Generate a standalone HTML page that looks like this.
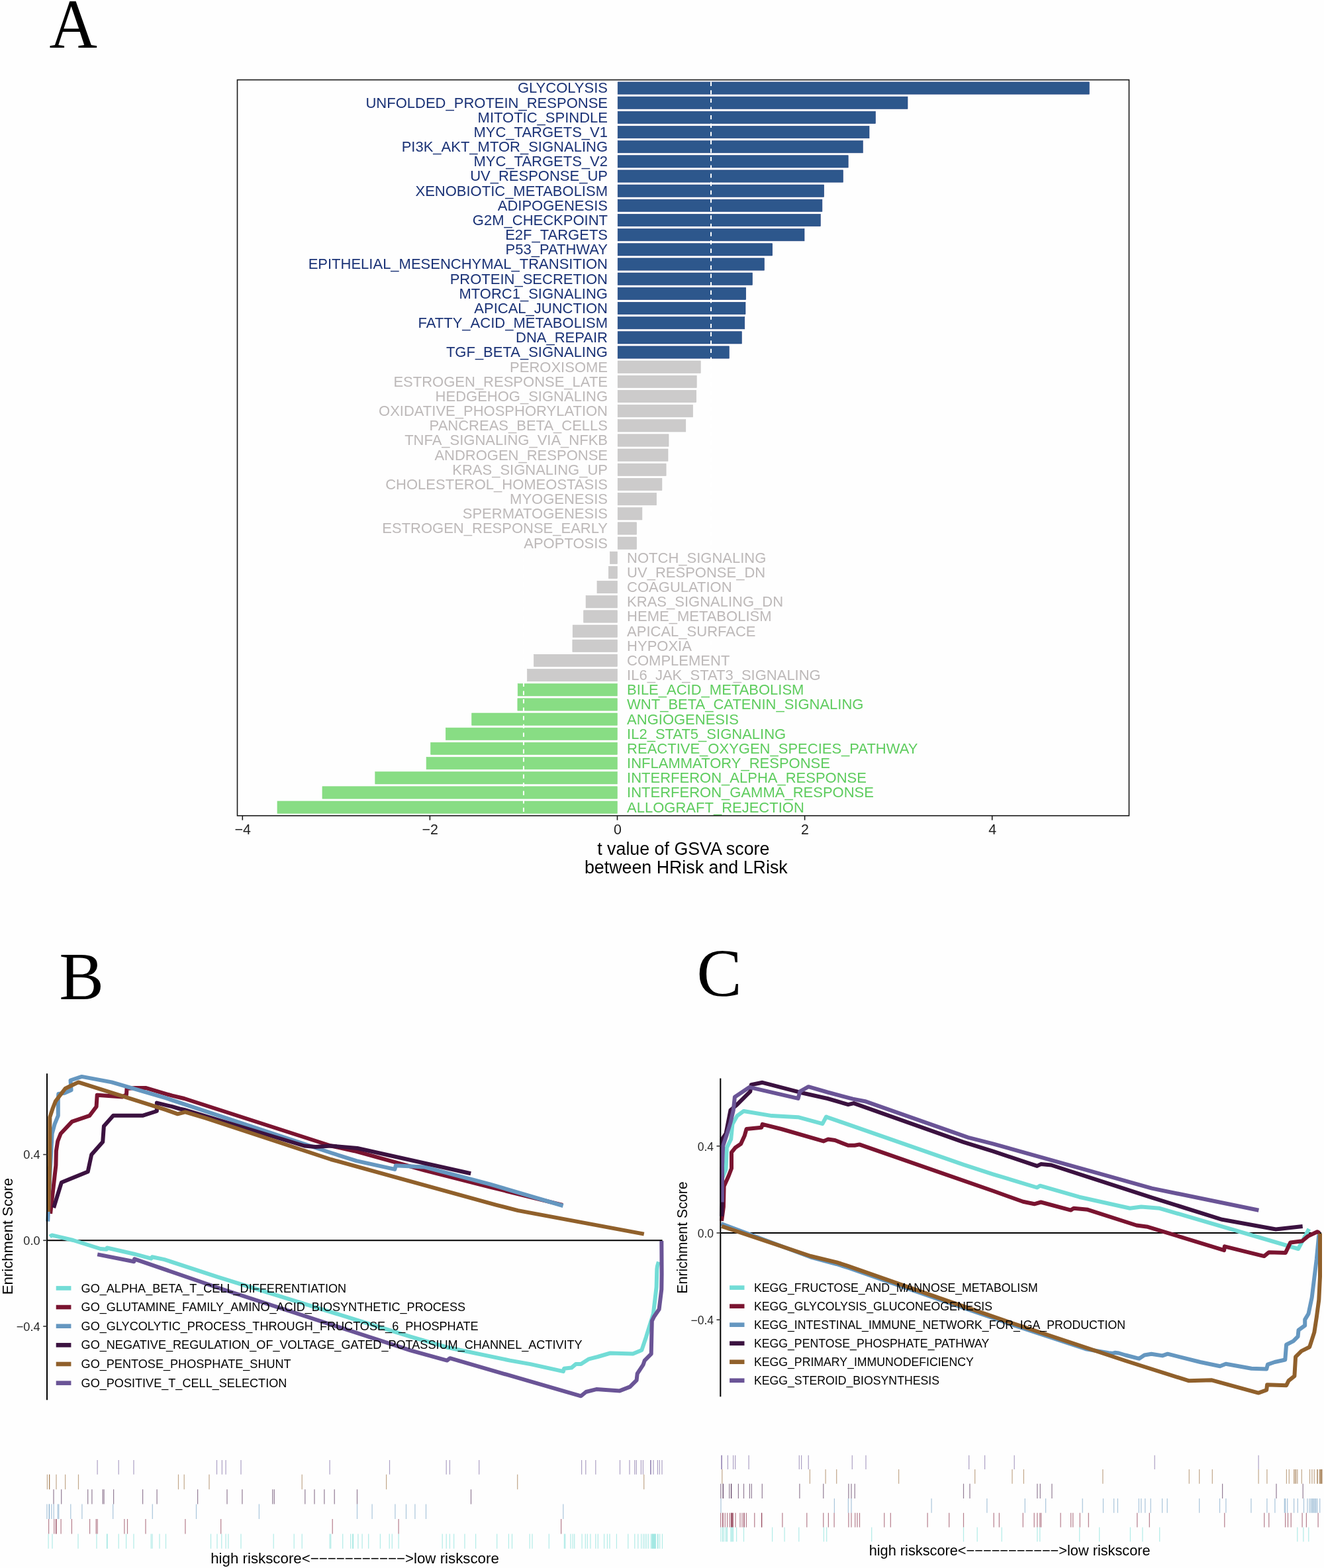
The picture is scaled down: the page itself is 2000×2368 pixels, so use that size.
<!DOCTYPE html>
<html><head><meta charset="utf-8"><title>GSVA and GSEA figure</title>
<style>
html,body{margin:0;padding:0;background:#FEFEFE;}
body{width:2000px;height:2368px;overflow:hidden;}
svg{display:block;}
</style></head>
<body>
<svg width="2000" height="2368" viewBox="0 0 2000 2368">
<rect x="0" y="0" width="2000" height="2368" fill="#FEFEFE"/>
<g id="panelA">
<rect x="933.20" y="123.90" width="712.10" height="18.3" fill="#2D578C" stroke="#1C3B7A" stroke-width="0.6"/>
<rect x="933.20" y="146.06" width="437.80" height="18.3" fill="#2D578C" stroke="#1C3B7A" stroke-width="0.6"/>
<rect x="933.20" y="168.23" width="389.20" height="18.3" fill="#2D578C" stroke="#1C3B7A" stroke-width="0.6"/>
<rect x="933.20" y="190.40" width="379.80" height="18.3" fill="#2D578C" stroke="#1C3B7A" stroke-width="0.6"/>
<rect x="933.20" y="212.56" width="370.10" height="18.3" fill="#2D578C" stroke="#1C3B7A" stroke-width="0.6"/>
<rect x="933.20" y="234.72" width="348.00" height="18.3" fill="#2D578C" stroke="#1C3B7A" stroke-width="0.6"/>
<rect x="933.20" y="256.89" width="340.20" height="18.3" fill="#2D578C" stroke="#1C3B7A" stroke-width="0.6"/>
<rect x="933.20" y="279.06" width="311.40" height="18.3" fill="#2D578C" stroke="#1C3B7A" stroke-width="0.6"/>
<rect x="933.20" y="301.22" width="308.70" height="18.3" fill="#2D578C" stroke="#1C3B7A" stroke-width="0.6"/>
<rect x="933.20" y="323.38" width="306.10" height="18.3" fill="#2D578C" stroke="#1C3B7A" stroke-width="0.6"/>
<rect x="933.20" y="345.55" width="281.80" height="18.3" fill="#2D578C" stroke="#1C3B7A" stroke-width="0.6"/>
<rect x="933.20" y="367.72" width="233.50" height="18.3" fill="#2D578C" stroke="#1C3B7A" stroke-width="0.6"/>
<rect x="933.20" y="389.88" width="221.20" height="18.3" fill="#2D578C" stroke="#1C3B7A" stroke-width="0.6"/>
<rect x="933.20" y="412.05" width="203.20" height="18.3" fill="#2D578C" stroke="#1C3B7A" stroke-width="0.6"/>
<rect x="933.20" y="434.21" width="193.50" height="18.3" fill="#2D578C" stroke="#1C3B7A" stroke-width="0.6"/>
<rect x="933.20" y="456.38" width="192.80" height="18.3" fill="#2D578C" stroke="#1C3B7A" stroke-width="0.6"/>
<rect x="933.20" y="478.54" width="191.60" height="18.3" fill="#2D578C" stroke="#1C3B7A" stroke-width="0.6"/>
<rect x="933.20" y="500.71" width="187.10" height="18.3" fill="#2D578C" stroke="#1C3B7A" stroke-width="0.6"/>
<rect x="933.20" y="522.87" width="168.10" height="18.3" fill="#2D578C" stroke="#1C3B7A" stroke-width="0.6"/>
<rect x="933.20" y="545.03" width="125.00" height="18.3" fill="#CCCBCB" stroke="#C2C1C1" stroke-width="0.6"/>
<rect x="933.20" y="567.20" width="119.00" height="18.3" fill="#CCCBCB" stroke="#C2C1C1" stroke-width="0.6"/>
<rect x="933.20" y="589.37" width="118.40" height="18.3" fill="#CCCBCB" stroke="#C2C1C1" stroke-width="0.6"/>
<rect x="933.20" y="611.53" width="113.20" height="18.3" fill="#CCCBCB" stroke="#C2C1C1" stroke-width="0.6"/>
<rect x="933.20" y="633.69" width="102.60" height="18.3" fill="#CCCBCB" stroke="#C2C1C1" stroke-width="0.6"/>
<rect x="933.20" y="655.86" width="76.80" height="18.3" fill="#CCCBCB" stroke="#C2C1C1" stroke-width="0.6"/>
<rect x="933.20" y="678.02" width="75.80" height="18.3" fill="#CCCBCB" stroke="#C2C1C1" stroke-width="0.6"/>
<rect x="933.20" y="700.19" width="72.90" height="18.3" fill="#CCCBCB" stroke="#C2C1C1" stroke-width="0.6"/>
<rect x="933.20" y="722.35" width="66.70" height="18.3" fill="#CCCBCB" stroke="#C2C1C1" stroke-width="0.6"/>
<rect x="933.20" y="744.52" width="58.30" height="18.3" fill="#CCCBCB" stroke="#C2C1C1" stroke-width="0.6"/>
<rect x="933.20" y="766.68" width="36.70" height="18.3" fill="#CCCBCB" stroke="#C2C1C1" stroke-width="0.6"/>
<rect x="933.20" y="788.85" width="28.30" height="18.3" fill="#CCCBCB" stroke="#C2C1C1" stroke-width="0.6"/>
<rect x="933.20" y="811.01" width="28.30" height="18.3" fill="#CCCBCB" stroke="#C2C1C1" stroke-width="0.6"/>
<rect x="921.60" y="833.18" width="10.70" height="18.3" fill="#CCCBCB" stroke="#C2C1C1" stroke-width="0.6"/>
<rect x="919.40" y="855.34" width="12.90" height="18.3" fill="#CCCBCB" stroke="#C2C1C1" stroke-width="0.6"/>
<rect x="902.00" y="877.51" width="30.30" height="18.3" fill="#CCCBCB" stroke="#C2C1C1" stroke-width="0.6"/>
<rect x="885.10" y="899.67" width="47.20" height="18.3" fill="#CCCBCB" stroke="#C2C1C1" stroke-width="0.6"/>
<rect x="881.70" y="921.84" width="50.60" height="18.3" fill="#CCCBCB" stroke="#C2C1C1" stroke-width="0.6"/>
<rect x="865.20" y="944.00" width="67.10" height="18.3" fill="#CCCBCB" stroke="#C2C1C1" stroke-width="0.6"/>
<rect x="864.90" y="966.17" width="67.40" height="18.3" fill="#CCCBCB" stroke="#C2C1C1" stroke-width="0.6"/>
<rect x="806.60" y="988.33" width="125.70" height="18.3" fill="#CCCBCB" stroke="#C2C1C1" stroke-width="0.6"/>
<rect x="796.60" y="1010.50" width="135.70" height="18.3" fill="#CCCBCB" stroke="#C2C1C1" stroke-width="0.6"/>
<rect x="782.20" y="1032.66" width="150.10" height="18.3" fill="#88DD84" stroke="#7DD879" stroke-width="0.6"/>
<rect x="781.90" y="1054.83" width="150.40" height="18.3" fill="#88DD84" stroke="#7DD879" stroke-width="0.6"/>
<rect x="712.70" y="1076.99" width="219.60" height="18.3" fill="#88DD84" stroke="#7DD879" stroke-width="0.6"/>
<rect x="673.40" y="1099.16" width="258.90" height="18.3" fill="#88DD84" stroke="#7DD879" stroke-width="0.6"/>
<rect x="650.70" y="1121.32" width="281.60" height="18.3" fill="#88DD84" stroke="#7DD879" stroke-width="0.6"/>
<rect x="644.10" y="1143.49" width="288.20" height="18.3" fill="#88DD84" stroke="#7DD879" stroke-width="0.6"/>
<rect x="566.80" y="1165.65" width="365.50" height="18.3" fill="#88DD84" stroke="#7DD879" stroke-width="0.6"/>
<rect x="487.00" y="1187.82" width="445.30" height="18.3" fill="#88DD84" stroke="#7DD879" stroke-width="0.6"/>
<rect x="419.00" y="1209.98" width="513.30" height="18.3" fill="#88DD84" stroke="#7DD879" stroke-width="0.6"/>
<line x1="1074.05" y1="121" x2="1074.05" y2="1230.5" stroke="#FFFFFF" stroke-width="2" stroke-dasharray="6.3,6.3" stroke-dashoffset="-2.6"/>
<line x1="790.95" y1="121" x2="790.95" y2="1230.5" stroke="#FFFFFF" stroke-width="2" stroke-dasharray="6.3,6.3" stroke-dashoffset="-2.6"/>
<g font-family="'Liberation Sans', Arial, sans-serif" font-size="22.0"><text x="918" y="140.45" text-anchor="end" fill="#1A3276">GLYCOLYSIS</text>
<text x="918" y="162.62" text-anchor="end" fill="#1A3276">UNFOLDED_PROTEIN_RESPONSE</text>
<text x="918" y="184.78" text-anchor="end" fill="#1A3276">MITOTIC_SPINDLE</text>
<text x="918" y="206.95" text-anchor="end" fill="#1A3276">MYC_TARGETS_V1</text>
<text x="918" y="229.11" text-anchor="end" fill="#1A3276">PI3K_AKT_MTOR_SIGNALING</text>
<text x="918" y="251.28" text-anchor="end" fill="#1A3276">MYC_TARGETS_V2</text>
<text x="918" y="273.44" text-anchor="end" fill="#1A3276">UV_RESPONSE_UP</text>
<text x="918" y="295.61" text-anchor="end" fill="#1A3276">XENOBIOTIC_METABOLISM</text>
<text x="918" y="317.77" text-anchor="end" fill="#1A3276">ADIPOGENESIS</text>
<text x="918" y="339.94" text-anchor="end" fill="#1A3276">G2M_CHECKPOINT</text>
<text x="918" y="362.10" text-anchor="end" fill="#1A3276">E2F_TARGETS</text>
<text x="918" y="384.27" text-anchor="end" fill="#1A3276">P53_PATHWAY</text>
<text x="918" y="406.43" text-anchor="end" fill="#1A3276">EPITHELIAL_MESENCHYMAL_TRANSITION</text>
<text x="918" y="428.60" text-anchor="end" fill="#1A3276">PROTEIN_SECRETION</text>
<text x="918" y="450.76" text-anchor="end" fill="#1A3276">MTORC1_SIGNALING</text>
<text x="918" y="472.93" text-anchor="end" fill="#1A3276">APICAL_JUNCTION</text>
<text x="918" y="495.09" text-anchor="end" fill="#1A3276">FATTY_ACID_METABOLISM</text>
<text x="918" y="517.25" text-anchor="end" fill="#1A3276">DNA_REPAIR</text>
<text x="918" y="539.42" text-anchor="end" fill="#1A3276">TGF_BETA_SIGNALING</text>
<text x="918" y="561.58" text-anchor="end" fill="#BDB9B9">PEROXISOME</text>
<text x="918" y="583.75" text-anchor="end" fill="#BDB9B9">ESTROGEN_RESPONSE_LATE</text>
<text x="918" y="605.91" text-anchor="end" fill="#BDB9B9">HEDGEHOG_SIGNALING</text>
<text x="918" y="628.08" text-anchor="end" fill="#BDB9B9">OXIDATIVE_PHOSPHORYLATION</text>
<text x="918" y="650.24" text-anchor="end" fill="#BDB9B9">PANCREAS_BETA_CELLS</text>
<text x="918" y="672.41" text-anchor="end" fill="#BDB9B9">TNFA_SIGNALING_VIA_NFKB</text>
<text x="918" y="694.57" text-anchor="end" fill="#BDB9B9">ANDROGEN_RESPONSE</text>
<text x="918" y="716.74" text-anchor="end" fill="#BDB9B9">KRAS_SIGNALING_UP</text>
<text x="918" y="738.90" text-anchor="end" fill="#BDB9B9">CHOLESTEROL_HOMEOSTASIS</text>
<text x="918" y="761.07" text-anchor="end" fill="#BDB9B9">MYOGENESIS</text>
<text x="918" y="783.23" text-anchor="end" fill="#BDB9B9">SPERMATOGENESIS</text>
<text x="918" y="805.40" text-anchor="end" fill="#BDB9B9">ESTROGEN_RESPONSE_EARLY</text>
<text x="918" y="827.56" text-anchor="end" fill="#BDB9B9">APOPTOSIS</text>
<text x="947.1" y="849.73" fill="#BDB9B9">NOTCH_SIGNALING</text>
<text x="947.1" y="871.89" fill="#BDB9B9">UV_RESPONSE_DN</text>
<text x="947.1" y="894.06" fill="#BDB9B9">COAGULATION</text>
<text x="947.1" y="916.22" fill="#BDB9B9">KRAS_SIGNALING_DN</text>
<text x="947.1" y="938.39" fill="#BDB9B9">HEME_METABOLISM</text>
<text x="947.1" y="960.55" fill="#BDB9B9">APICAL_SURFACE</text>
<text x="947.1" y="982.72" fill="#BDB9B9">HYPOXIA</text>
<text x="947.1" y="1004.88" fill="#BDB9B9">COMPLEMENT</text>
<text x="947.1" y="1027.05" fill="#BDB9B9">IL6_JAK_STAT3_SIGNALING</text>
<text x="947.1" y="1049.21" fill="#5ECC5E">BILE_ACID_METABOLISM</text>
<text x="947.1" y="1071.38" fill="#5ECC5E">WNT_BETA_CATENIN_SIGNALING</text>
<text x="947.1" y="1093.54" fill="#5ECC5E">ANGIOGENESIS</text>
<text x="947.1" y="1115.71" fill="#5ECC5E">IL2_STAT5_SIGNALING</text>
<text x="947.1" y="1137.87" fill="#5ECC5E">REACTIVE_OXYGEN_SPECIES_PATHWAY</text>
<text x="947.1" y="1160.04" fill="#5ECC5E">INFLAMMATORY_RESPONSE</text>
<text x="947.1" y="1182.20" fill="#5ECC5E">INTERFERON_ALPHA_RESPONSE</text>
<text x="947.1" y="1204.37" fill="#5ECC5E">INTERFERON_GAMMA_RESPONSE</text>
<text x="947.1" y="1226.53" fill="#5ECC5E">ALLOGRAFT_REJECTION</text></g>
<rect x="358.5" y="120.6" width="1347" height="1111.3" fill="none" stroke="#1A1A1A" stroke-width="1.6"/>
<g font-family="'Liberation Sans', Arial, sans-serif" font-size="21.4" fill="#222"><line x1="366.30" y1="1231.9" x2="366.30" y2="1238.6" stroke="#1A1A1A" stroke-width="1.6"/><text x="366.70" y="1260.1" text-anchor="middle">−4</text><line x1="649.40" y1="1231.9" x2="649.40" y2="1238.6" stroke="#1A1A1A" stroke-width="1.6"/><text x="649.80" y="1260.1" text-anchor="middle">−2</text><line x1="932.50" y1="1231.9" x2="932.50" y2="1238.6" stroke="#1A1A1A" stroke-width="1.6"/><text x="932.90" y="1260.1" text-anchor="middle">0</text><line x1="1215.60" y1="1231.9" x2="1215.60" y2="1238.6" stroke="#1A1A1A" stroke-width="1.6"/><text x="1216.00" y="1260.1" text-anchor="middle">2</text><line x1="1498.70" y1="1231.9" x2="1498.70" y2="1238.6" stroke="#1A1A1A" stroke-width="1.6"/><text x="1499.10" y="1260.1" text-anchor="middle">4</text></g>
<g font-family="'Liberation Sans', Arial, sans-serif" font-size="26.8" fill="#000" text-anchor="middle"><text x="1032.3" y="1291">t value of GSVA score</text><text x="1036.3" y="1319.3">between HRisk and LRisk</text></g>
</g>
<g font-family="'Liberation Serif', 'Times New Roman', serif" fill="#000"><text x="0" y="0" font-size="105" transform="translate(74.6,71.8) scale(0.955,1)">A</text><text x="89.6" y="1509.3" font-size="101">B</text><text x="1052.5" y="1503.8" font-size="102">C</text></g>
<line x1="71.00" y1="1873.30" x2="1000.60" y2="1873.30" stroke="#000" stroke-width="2"/>
<polyline points="75.3,1867.7 78.4,1865.4 110.5,1873.0 151.8,1886.0 161.0,1886.8 161.8,1884.5 202.4,1893.7 228.4,1900.6 229.9,1898.3 248.3,1902.1 330.0,1928.9 620.0,2018.6 675.3,2034.7 770.3,2054.6 801.3,2060.1 851.0,2071.1 852.1,2066.7 863.2,2065.6 869.8,2060.1 877.6,2060.1 889.7,2052.3 903.0,2049.0 921.8,2043.5 956.1,2044.6 969.3,2039.1 976.0,2019.2 986.9,1983.8 991.6,1943.8 992.3,1917.0 992.9,1912.3 994.9,1905.6" fill="none" stroke="#72DCD6" stroke-width="6.0" stroke-linejoin="round" stroke-linecap="butt"/>
<polyline points="76.1,1832.9 84.4,1760.0 84.9,1738.1 87.2,1723.4 91.7,1712.0 108.8,1693.9 135.4,1684.8 145.6,1671.2 146.7,1653.7 184.7,1656.5 191.0,1653.1 191.5,1644.0 204.0,1642.9 219.9,1642.9 260.0,1654.7 278.3,1659.0 500.0,1730.5 535.4,1738.2 640.0,1767.1 740.0,1792.6 850.0,1819.8" fill="none" stroke="#7A1430" stroke-width="6.0" stroke-linejoin="round" stroke-linecap="butt"/>
<polyline points="72.2,1844.7 75.2,1776.9 78.7,1712.0 82.7,1697.3 87.8,1684.8 87.8,1661.0 88.3,1652.0 97.4,1650.8 107.6,1646.3 106.5,1631.5 123.5,1625.9 168.8,1634.4 250.0,1658.2 500.0,1741.0 538.3,1753.1 596.4,1765.9 597.8,1760.2 641.7,1762.6 740.0,1788.3 850.6,1821.0" fill="none" stroke="#6597C0" stroke-width="6.0" stroke-linejoin="round" stroke-linecap="butt"/>
<polyline points="81.1,1824.0 92.9,1785.7 132.7,1769.5 138.2,1743.8 155.2,1724.5 156.9,1700.7 171.1,1684.8 215.3,1684.8 236.9,1678.0 236.9,1665.6 260.0,1671.2 271.3,1674.5 278.3,1675.9 459.8,1730.5 476.8,1731.9 500.0,1730.5 539.7,1734.0 711.2,1772.3" fill="none" stroke="#3B1240" stroke-width="6.0" stroke-linejoin="round" stroke-linecap="butt"/>
<polyline points="73.1,1830.0 75.1,1760.0 75.3,1687.1 79.8,1673.5 83.8,1663.3 90.6,1654.2 98.5,1644.0 107.6,1639.5 118.4,1634.4 250.0,1675.9 268.4,1682.3 279.8,1679.4 310.9,1688.7 500.0,1751.0 750.0,1819.9 782.4,1828.1 972.8,1863.6" fill="none" stroke="#90602B" stroke-width="6.0" stroke-linejoin="round" stroke-linecap="butt"/>
<polyline points="147.2,1894.4 202.4,1905.2 203.1,1901.3 330.0,1945.0 620.0,2039.3 675.3,2054.6 679.7,2051.2 877.6,2108.3 885.3,2102.0 900.8,2098.1 936.2,2100.4 951.6,2094.4 961.6,2084.4 962.7,2074.5 971.5,2061.2 973.8,2054.6 983.7,2044.6 984.8,1994.9 988.1,1988.2 995.6,1977.3 999.3,1947.2 999.6,1923.7 999.3,1874.1" fill="none" stroke="#6A5496" stroke-width="6.0" stroke-linejoin="round" stroke-linecap="butt"/>
<line x1="71.00" y1="1621.30" x2="71.00" y2="2114.30" stroke="#000" stroke-width="2"/>
<line x1="65.20" y1="1743.58" x2="71.00" y2="1743.58" stroke="#333" stroke-width="1.6"/>
<line x1="65.20" y1="1873.30" x2="71.00" y2="1873.30" stroke="#333" stroke-width="1.6"/>
<line x1="65.20" y1="2003.02" x2="71.00" y2="2003.02" stroke="#333" stroke-width="1.6"/>
<g font-family="'Liberation Sans', Arial, sans-serif" font-size="18.2" fill="#262626"><text x="60.60" y="1750.33" text-anchor="end">0.4</text><text x="60.60" y="1880.05" text-anchor="end">0.0</text><text x="60.60" y="2009.77" text-anchor="end">−0.4</text></g>
<text transform="translate(18.70,1867.10) rotate(-90)" text-anchor="middle" font-family="'Liberation Sans', Arial, sans-serif" font-size="22.2" fill="#000">Enrichment Score</text>
<g font-family="'Liberation Sans', Arial, sans-serif" font-size="18.1" fill="#000"><line x1="84.70" y1="1945.40" x2="107.40" y2="1945.40" stroke="#72DCD6" stroke-width="6.6"/><text x="122.60" y="1951.50">GO_ALPHA_BETA_T_CELL_DIFFERENTIATION</text><line x1="84.70" y1="1974.05" x2="107.40" y2="1974.05" stroke="#7A1430" stroke-width="6.6"/><text x="122.60" y="1980.15">GO_GLUTAMINE_FAMILY_AMINO_ACID_BIOSYNTHETIC_PROCESS</text><line x1="84.70" y1="2002.70" x2="107.40" y2="2002.70" stroke="#6597C0" stroke-width="6.6"/><text x="122.60" y="2008.80">GO_GLYCOLYTIC_PROCESS_THROUGH_FRUCTOSE_6_PHOSPHATE</text><line x1="84.70" y1="2031.35" x2="107.40" y2="2031.35" stroke="#3B1240" stroke-width="6.6"/><text x="122.60" y="2037.45">GO_NEGATIVE_REGULATION_OF_VOLTAGE_GATED_POTASSIUM_CHANNEL_ACTIVITY</text><line x1="84.70" y1="2060.00" x2="107.40" y2="2060.00" stroke="#90602B" stroke-width="6.6"/><text x="122.60" y="2066.10">GO_PENTOSE_PHOSPHATE_SHUNT</text><line x1="84.70" y1="2088.65" x2="107.40" y2="2088.65" stroke="#6A5496" stroke-width="6.6"/><text x="122.60" y="2094.75">GO_POSITIVE_T_CELL_SELECTION</text></g>
<line x1="147.1" y1="2205.0" x2="147.1" y2="2226.7" stroke="#6A5496" stroke-opacity="0.55" stroke-width="1.2"/><line x1="179.2" y1="2205.0" x2="179.2" y2="2226.7" stroke="#6A5496" stroke-opacity="0.55" stroke-width="1.2"/><line x1="202.0" y1="2205.0" x2="202.0" y2="2226.7" stroke="#6A5496" stroke-opacity="0.55" stroke-width="1.2"/><line x1="327.5" y1="2205.0" x2="327.5" y2="2226.7" stroke="#6A5496" stroke-opacity="0.55" stroke-width="1.2"/><line x1="335.4" y1="2205.0" x2="335.4" y2="2226.7" stroke="#6A5496" stroke-opacity="0.55" stroke-width="1.2"/><line x1="341.1" y1="2205.0" x2="341.1" y2="2226.7" stroke="#6A5496" stroke-opacity="0.55" stroke-width="1.2"/><line x1="364.0" y1="2205.0" x2="364.0" y2="2226.7" stroke="#6A5496" stroke-opacity="0.55" stroke-width="1.2"/><line x1="498.1" y1="2205.0" x2="498.1" y2="2226.7" stroke="#6A5496" stroke-opacity="0.55" stroke-width="1.2"/><line x1="588.5" y1="2205.0" x2="588.5" y2="2226.7" stroke="#6A5496" stroke-opacity="0.55" stroke-width="1.2"/><line x1="674.2" y1="2205.0" x2="674.2" y2="2226.7" stroke="#6A5496" stroke-opacity="0.55" stroke-width="1.2"/><line x1="679.4" y1="2205.0" x2="679.4" y2="2226.7" stroke="#6A5496" stroke-opacity="0.55" stroke-width="1.2"/><line x1="723.7" y1="2205.0" x2="723.7" y2="2226.7" stroke="#6A5496" stroke-opacity="0.55" stroke-width="1.2"/><line x1="878.6" y1="2205.0" x2="878.6" y2="2226.7" stroke="#6A5496" stroke-opacity="0.55" stroke-width="1.2"/><line x1="884.8" y1="2205.0" x2="884.8" y2="2226.7" stroke="#6A5496" stroke-opacity="0.55" stroke-width="1.2"/><line x1="899.8" y1="2205.0" x2="899.8" y2="2226.7" stroke="#6A5496" stroke-opacity="0.55" stroke-width="1.2"/><line x1="936.5" y1="2205.0" x2="936.5" y2="2226.7" stroke="#6A5496" stroke-opacity="0.55" stroke-width="1.2"/><line x1="951.0" y1="2205.0" x2="951.0" y2="2226.7" stroke="#6A5496" stroke-opacity="0.55" stroke-width="1.2"/><line x1="958.8" y1="2205.0" x2="958.8" y2="2226.7" stroke="#6A5496" stroke-opacity="0.55" stroke-width="1.2"/><line x1="961.3" y1="2205.0" x2="961.3" y2="2226.7" stroke="#6A5496" stroke-opacity="0.55" stroke-width="1.2"/><line x1="968.4" y1="2205.0" x2="968.4" y2="2226.7" stroke="#6A5496" stroke-opacity="0.55" stroke-width="1.2"/><line x1="971.4" y1="2205.0" x2="971.4" y2="2226.7" stroke="#6A5496" stroke-opacity="0.55" stroke-width="1.2"/><line x1="982.6" y1="2205.0" x2="982.6" y2="2226.7" stroke="#6A5496" stroke-opacity="0.55" stroke-width="1.2"/><line x1="983.3" y1="2205.0" x2="983.3" y2="2226.7" stroke="#6A5496" stroke-opacity="0.55" stroke-width="1.2"/><line x1="987.0" y1="2205.0" x2="987.0" y2="2226.7" stroke="#6A5496" stroke-opacity="0.55" stroke-width="1.2"/><line x1="993.4" y1="2205.0" x2="993.4" y2="2226.7" stroke="#6A5496" stroke-opacity="0.55" stroke-width="1.2"/><line x1="996.3" y1="2205.0" x2="996.3" y2="2226.7" stroke="#6A5496" stroke-opacity="0.55" stroke-width="1.2"/><line x1="1000.0" y1="2205.0" x2="1000.0" y2="2226.7" stroke="#6A5496" stroke-opacity="0.55" stroke-width="1.2"/><line x1="71.4" y1="2226.7" x2="71.4" y2="2249.3" stroke="#90602B" stroke-opacity="0.55" stroke-width="1.2"/><line x1="74.6" y1="2226.7" x2="74.6" y2="2249.3" stroke="#90602B" stroke-opacity="0.55" stroke-width="1.2"/><line x1="74.6" y1="2226.7" x2="74.6" y2="2249.3" stroke="#90602B" stroke-opacity="0.55" stroke-width="1.2"/><line x1="85.0" y1="2226.7" x2="85.0" y2="2249.3" stroke="#90602B" stroke-opacity="0.55" stroke-width="1.2"/><line x1="98.6" y1="2226.7" x2="98.6" y2="2249.3" stroke="#90602B" stroke-opacity="0.55" stroke-width="1.2"/><line x1="118.5" y1="2226.7" x2="118.5" y2="2249.3" stroke="#90602B" stroke-opacity="0.55" stroke-width="1.2"/><line x1="269.5" y1="2226.7" x2="269.5" y2="2249.3" stroke="#90602B" stroke-opacity="0.55" stroke-width="1.2"/><line x1="278.2" y1="2226.7" x2="278.2" y2="2249.3" stroke="#90602B" stroke-opacity="0.55" stroke-width="1.2"/><line x1="316.0" y1="2226.7" x2="316.0" y2="2249.3" stroke="#90602B" stroke-opacity="0.55" stroke-width="1.2"/><line x1="456.2" y1="2226.7" x2="456.2" y2="2249.3" stroke="#90602B" stroke-opacity="0.55" stroke-width="1.2"/><line x1="583.6" y1="2226.7" x2="583.6" y2="2249.3" stroke="#90602B" stroke-opacity="0.55" stroke-width="1.2"/><line x1="781.7" y1="2226.7" x2="781.7" y2="2249.3" stroke="#90602B" stroke-opacity="0.55" stroke-width="1.2"/><line x1="972.7" y1="2226.7" x2="972.7" y2="2249.3" stroke="#90602B" stroke-opacity="0.55" stroke-width="1.2"/><line x1="81.0" y1="2249.3" x2="81.0" y2="2271.6" stroke="#3B1240" stroke-opacity="0.55" stroke-width="1.2"/><line x1="92.7" y1="2249.3" x2="92.7" y2="2271.6" stroke="#3B1240" stroke-opacity="0.55" stroke-width="1.2"/><line x1="132.7" y1="2249.3" x2="132.7" y2="2271.6" stroke="#3B1240" stroke-opacity="0.55" stroke-width="1.2"/><line x1="138.9" y1="2249.3" x2="138.9" y2="2271.6" stroke="#3B1240" stroke-opacity="0.55" stroke-width="1.2"/><line x1="155.2" y1="2249.3" x2="155.2" y2="2271.6" stroke="#3B1240" stroke-opacity="0.55" stroke-width="1.2"/><line x1="157.1" y1="2249.3" x2="157.1" y2="2271.6" stroke="#3B1240" stroke-opacity="0.55" stroke-width="1.2"/><line x1="171.6" y1="2249.3" x2="171.6" y2="2271.6" stroke="#3B1240" stroke-opacity="0.55" stroke-width="1.2"/><line x1="215.6" y1="2249.3" x2="215.6" y2="2271.6" stroke="#3B1240" stroke-opacity="0.55" stroke-width="1.2"/><line x1="237.1" y1="2249.3" x2="237.1" y2="2271.6" stroke="#3B1240" stroke-opacity="0.55" stroke-width="1.2"/><line x1="298.6" y1="2249.3" x2="298.6" y2="2271.6" stroke="#3B1240" stroke-opacity="0.55" stroke-width="1.2"/><line x1="343.0" y1="2249.3" x2="343.0" y2="2271.6" stroke="#3B1240" stroke-opacity="0.55" stroke-width="1.2"/><line x1="365.9" y1="2249.3" x2="365.9" y2="2271.6" stroke="#3B1240" stroke-opacity="0.55" stroke-width="1.2"/><line x1="411.8" y1="2249.3" x2="411.8" y2="2271.6" stroke="#3B1240" stroke-opacity="0.55" stroke-width="1.2"/><line x1="414.3" y1="2249.3" x2="414.3" y2="2271.6" stroke="#3B1240" stroke-opacity="0.55" stroke-width="1.2"/><line x1="460.8" y1="2249.3" x2="460.8" y2="2271.6" stroke="#3B1240" stroke-opacity="0.55" stroke-width="1.2"/><line x1="475.0" y1="2249.3" x2="475.0" y2="2271.6" stroke="#3B1240" stroke-opacity="0.55" stroke-width="1.2"/><line x1="489.9" y1="2249.3" x2="489.9" y2="2271.6" stroke="#3B1240" stroke-opacity="0.55" stroke-width="1.2"/><line x1="505.2" y1="2249.3" x2="505.2" y2="2271.6" stroke="#3B1240" stroke-opacity="0.55" stroke-width="1.2"/><line x1="539.5" y1="2249.3" x2="539.5" y2="2271.6" stroke="#3B1240" stroke-opacity="0.55" stroke-width="1.2"/><line x1="711.5" y1="2249.3" x2="711.5" y2="2271.6" stroke="#3B1240" stroke-opacity="0.55" stroke-width="1.2"/><line x1="70.9" y1="2271.6" x2="70.9" y2="2294.0" stroke="#6597C0" stroke-opacity="0.55" stroke-width="1.2"/><line x1="74.4" y1="2271.6" x2="74.4" y2="2294.0" stroke="#6597C0" stroke-opacity="0.55" stroke-width="1.2"/><line x1="74.4" y1="2271.6" x2="74.4" y2="2294.0" stroke="#6597C0" stroke-opacity="0.55" stroke-width="1.2"/><line x1="77.8" y1="2271.6" x2="77.8" y2="2294.0" stroke="#6597C0" stroke-opacity="0.55" stroke-width="1.2"/><line x1="81.2" y1="2271.6" x2="81.2" y2="2294.0" stroke="#6597C0" stroke-opacity="0.55" stroke-width="1.2"/><line x1="87.3" y1="2271.6" x2="87.3" y2="2294.0" stroke="#6597C0" stroke-opacity="0.55" stroke-width="1.2"/><line x1="88.8" y1="2271.6" x2="88.8" y2="2294.0" stroke="#6597C0" stroke-opacity="0.55" stroke-width="1.2"/><line x1="106.8" y1="2271.6" x2="106.8" y2="2294.0" stroke="#6597C0" stroke-opacity="0.55" stroke-width="1.2"/><line x1="123.9" y1="2271.6" x2="123.9" y2="2294.0" stroke="#6597C0" stroke-opacity="0.55" stroke-width="1.2"/><line x1="170.7" y1="2271.6" x2="170.7" y2="2294.0" stroke="#6597C0" stroke-opacity="0.55" stroke-width="1.2"/><line x1="230.3" y1="2271.6" x2="230.3" y2="2294.0" stroke="#6597C0" stroke-opacity="0.55" stroke-width="1.2"/><line x1="296.5" y1="2271.6" x2="296.5" y2="2294.0" stroke="#6597C0" stroke-opacity="0.55" stroke-width="1.2"/><line x1="391.4" y1="2271.6" x2="391.4" y2="2294.0" stroke="#6597C0" stroke-opacity="0.55" stroke-width="1.2"/><line x1="539.5" y1="2271.6" x2="539.5" y2="2294.0" stroke="#6597C0" stroke-opacity="0.55" stroke-width="1.2"/><line x1="562.1" y1="2271.6" x2="562.1" y2="2294.0" stroke="#6597C0" stroke-opacity="0.55" stroke-width="1.2"/><line x1="596.9" y1="2271.6" x2="596.9" y2="2294.0" stroke="#6597C0" stroke-opacity="0.55" stroke-width="1.2"/><line x1="613.5" y1="2271.6" x2="613.5" y2="2294.0" stroke="#6597C0" stroke-opacity="0.55" stroke-width="1.2"/><line x1="626.9" y1="2271.6" x2="626.9" y2="2294.0" stroke="#6597C0" stroke-opacity="0.55" stroke-width="1.2"/><line x1="643.5" y1="2271.6" x2="643.5" y2="2294.0" stroke="#6597C0" stroke-opacity="0.55" stroke-width="1.2"/><line x1="850.8" y1="2271.6" x2="850.8" y2="2294.0" stroke="#6597C0" stroke-opacity="0.55" stroke-width="1.2"/><line x1="73.6" y1="2294.0" x2="73.6" y2="2316.5" stroke="#7A1430" stroke-opacity="0.55" stroke-width="1.2"/><line x1="81.8" y1="2294.0" x2="81.8" y2="2316.5" stroke="#7A1430" stroke-opacity="0.55" stroke-width="1.2"/><line x1="84.8" y1="2294.0" x2="84.8" y2="2316.5" stroke="#7A1430" stroke-opacity="0.55" stroke-width="1.2"/><line x1="84.8" y1="2294.0" x2="84.8" y2="2316.5" stroke="#7A1430" stroke-opacity="0.55" stroke-width="1.2"/><line x1="92.1" y1="2294.0" x2="92.1" y2="2316.5" stroke="#7A1430" stroke-opacity="0.55" stroke-width="1.2"/><line x1="108.4" y1="2294.0" x2="108.4" y2="2316.5" stroke="#7A1430" stroke-opacity="0.55" stroke-width="1.2"/><line x1="135.6" y1="2294.0" x2="135.6" y2="2316.5" stroke="#7A1430" stroke-opacity="0.55" stroke-width="1.2"/><line x1="145.2" y1="2294.0" x2="145.2" y2="2316.5" stroke="#7A1430" stroke-opacity="0.55" stroke-width="1.2"/><line x1="147.1" y1="2294.0" x2="147.1" y2="2316.5" stroke="#7A1430" stroke-opacity="0.55" stroke-width="1.2"/><line x1="187.9" y1="2294.0" x2="187.9" y2="2316.5" stroke="#7A1430" stroke-opacity="0.55" stroke-width="1.2"/><line x1="192.5" y1="2294.0" x2="192.5" y2="2316.5" stroke="#7A1430" stroke-opacity="0.55" stroke-width="1.2"/><line x1="220.0" y1="2294.0" x2="220.0" y2="2316.5" stroke="#7A1430" stroke-opacity="0.55" stroke-width="1.2"/><line x1="279.9" y1="2294.0" x2="279.9" y2="2316.5" stroke="#7A1430" stroke-opacity="0.55" stroke-width="1.2"/><line x1="333.7" y1="2294.0" x2="333.7" y2="2316.5" stroke="#7A1430" stroke-opacity="0.55" stroke-width="1.2"/><line x1="502.2" y1="2294.0" x2="502.2" y2="2316.5" stroke="#7A1430" stroke-opacity="0.55" stroke-width="1.2"/><line x1="602.1" y1="2294.0" x2="602.1" y2="2316.5" stroke="#7A1430" stroke-opacity="0.55" stroke-width="1.2"/><line x1="847.6" y1="2294.0" x2="847.6" y2="2316.5" stroke="#7A1430" stroke-opacity="0.55" stroke-width="1.2"/><line x1="73.1" y1="2316.5" x2="73.1" y2="2338.8" stroke="#72DCD6" stroke-opacity="0.55" stroke-width="1.2"/><line x1="79.0" y1="2316.5" x2="79.0" y2="2338.8" stroke="#72DCD6" stroke-opacity="0.55" stroke-width="1.2"/><line x1="118.0" y1="2316.5" x2="118.0" y2="2338.8" stroke="#72DCD6" stroke-opacity="0.55" stroke-width="1.2"/><line x1="146.0" y1="2316.5" x2="146.0" y2="2338.8" stroke="#72DCD6" stroke-opacity="0.55" stroke-width="1.2"/><line x1="161.8" y1="2316.5" x2="161.8" y2="2338.8" stroke="#72DCD6" stroke-opacity="0.55" stroke-width="1.2"/><line x1="161.8" y1="2316.5" x2="161.8" y2="2338.8" stroke="#72DCD6" stroke-opacity="0.55" stroke-width="1.2"/><line x1="179.2" y1="2316.5" x2="179.2" y2="2338.8" stroke="#72DCD6" stroke-opacity="0.55" stroke-width="1.2"/><line x1="190.6" y1="2316.5" x2="190.6" y2="2338.8" stroke="#72DCD6" stroke-opacity="0.55" stroke-width="1.2"/><line x1="202.0" y1="2316.5" x2="202.0" y2="2338.8" stroke="#72DCD6" stroke-opacity="0.55" stroke-width="1.2"/><line x1="228.2" y1="2316.5" x2="228.2" y2="2338.8" stroke="#72DCD6" stroke-opacity="0.55" stroke-width="1.2"/><line x1="230.1" y1="2316.5" x2="230.1" y2="2338.8" stroke="#72DCD6" stroke-opacity="0.55" stroke-width="1.2"/><line x1="241.0" y1="2316.5" x2="241.0" y2="2338.8" stroke="#72DCD6" stroke-opacity="0.55" stroke-width="1.2"/><line x1="250.5" y1="2316.5" x2="250.5" y2="2338.8" stroke="#72DCD6" stroke-opacity="0.55" stroke-width="1.2"/><line x1="318.5" y1="2316.5" x2="318.5" y2="2338.8" stroke="#72DCD6" stroke-opacity="0.55" stroke-width="1.2"/><line x1="328.0" y1="2316.5" x2="328.0" y2="2338.8" stroke="#72DCD6" stroke-opacity="0.55" stroke-width="1.2"/><line x1="334.8" y1="2316.5" x2="334.8" y2="2338.8" stroke="#72DCD6" stroke-opacity="0.55" stroke-width="1.2"/><line x1="341.1" y1="2316.5" x2="341.1" y2="2338.8" stroke="#72DCD6" stroke-opacity="0.55" stroke-width="1.2"/><line x1="344.9" y1="2316.5" x2="344.9" y2="2338.8" stroke="#72DCD6" stroke-opacity="0.55" stroke-width="1.2"/><line x1="364.0" y1="2316.5" x2="364.0" y2="2338.8" stroke="#72DCD6" stroke-opacity="0.55" stroke-width="1.2"/><line x1="413.2" y1="2316.5" x2="413.2" y2="2338.8" stroke="#72DCD6" stroke-opacity="0.55" stroke-width="1.2"/><line x1="444.2" y1="2316.5" x2="444.2" y2="2338.8" stroke="#72DCD6" stroke-opacity="0.55" stroke-width="1.2"/><line x1="456.2" y1="2316.5" x2="456.2" y2="2338.8" stroke="#72DCD6" stroke-opacity="0.55" stroke-width="1.2"/><line x1="498.1" y1="2316.5" x2="498.1" y2="2338.8" stroke="#72DCD6" stroke-opacity="0.55" stroke-width="1.2"/><line x1="499.7" y1="2316.5" x2="499.7" y2="2338.8" stroke="#72DCD6" stroke-opacity="0.55" stroke-width="1.2"/><line x1="517.7" y1="2316.5" x2="517.7" y2="2338.8" stroke="#72DCD6" stroke-opacity="0.55" stroke-width="1.2"/><line x1="529.7" y1="2316.5" x2="529.7" y2="2338.8" stroke="#72DCD6" stroke-opacity="0.55" stroke-width="1.2"/><line x1="532.7" y1="2316.5" x2="532.7" y2="2338.8" stroke="#72DCD6" stroke-opacity="0.55" stroke-width="1.2"/><line x1="533.5" y1="2316.5" x2="533.5" y2="2338.8" stroke="#72DCD6" stroke-opacity="0.55" stroke-width="1.2"/><line x1="540.9" y1="2316.5" x2="540.9" y2="2338.8" stroke="#72DCD6" stroke-opacity="0.55" stroke-width="1.2"/><line x1="547.1" y1="2316.5" x2="547.1" y2="2338.8" stroke="#72DCD6" stroke-opacity="0.55" stroke-width="1.2"/><line x1="556.7" y1="2316.5" x2="556.7" y2="2338.8" stroke="#72DCD6" stroke-opacity="0.55" stroke-width="1.2"/><line x1="574.4" y1="2316.5" x2="574.4" y2="2338.8" stroke="#72DCD6" stroke-opacity="0.55" stroke-width="1.2"/><line x1="588.2" y1="2316.5" x2="588.2" y2="2338.8" stroke="#72DCD6" stroke-opacity="0.55" stroke-width="1.2"/><line x1="592.3" y1="2316.5" x2="592.3" y2="2338.8" stroke="#72DCD6" stroke-opacity="0.55" stroke-width="1.2"/><line x1="602.1" y1="2316.5" x2="602.1" y2="2338.8" stroke="#72DCD6" stroke-opacity="0.55" stroke-width="1.2"/><line x1="668.2" y1="2316.5" x2="668.2" y2="2338.8" stroke="#72DCD6" stroke-opacity="0.55" stroke-width="1.2"/><line x1="674.2" y1="2316.5" x2="674.2" y2="2338.8" stroke="#72DCD6" stroke-opacity="0.55" stroke-width="1.2"/><line x1="679.4" y1="2316.5" x2="679.4" y2="2338.8" stroke="#72DCD6" stroke-opacity="0.55" stroke-width="1.2"/><line x1="685.6" y1="2316.5" x2="685.6" y2="2338.8" stroke="#72DCD6" stroke-opacity="0.55" stroke-width="1.2"/><line x1="702.0" y1="2316.5" x2="702.0" y2="2338.8" stroke="#72DCD6" stroke-opacity="0.55" stroke-width="1.2"/><line x1="718.6" y1="2316.5" x2="718.6" y2="2338.8" stroke="#72DCD6" stroke-opacity="0.55" stroke-width="1.2"/><line x1="750.7" y1="2316.5" x2="750.7" y2="2338.8" stroke="#72DCD6" stroke-opacity="0.55" stroke-width="1.2"/><line x1="768.4" y1="2316.5" x2="768.4" y2="2338.8" stroke="#72DCD6" stroke-opacity="0.55" stroke-width="1.2"/><line x1="773.5" y1="2316.5" x2="773.5" y2="2338.8" stroke="#72DCD6" stroke-opacity="0.55" stroke-width="1.2"/><line x1="800.2" y1="2316.5" x2="800.2" y2="2338.8" stroke="#72DCD6" stroke-opacity="0.55" stroke-width="1.2"/><line x1="804.0" y1="2316.5" x2="804.0" y2="2338.8" stroke="#72DCD6" stroke-opacity="0.55" stroke-width="1.2"/><line x1="829.3" y1="2316.5" x2="829.3" y2="2338.8" stroke="#72DCD6" stroke-opacity="0.55" stroke-width="1.2"/><line x1="852.4" y1="2316.5" x2="852.4" y2="2338.8" stroke="#72DCD6" stroke-opacity="0.55" stroke-width="1.2"/><line x1="853.8" y1="2316.5" x2="853.8" y2="2338.8" stroke="#72DCD6" stroke-opacity="0.55" stroke-width="1.2"/><line x1="862.0" y1="2316.5" x2="862.0" y2="2338.8" stroke="#72DCD6" stroke-opacity="0.55" stroke-width="1.2"/><line x1="865.2" y1="2316.5" x2="865.2" y2="2338.8" stroke="#72DCD6" stroke-opacity="0.55" stroke-width="1.2"/><line x1="867.7" y1="2316.5" x2="867.7" y2="2338.8" stroke="#72DCD6" stroke-opacity="0.55" stroke-width="1.2"/><line x1="879.1" y1="2316.5" x2="879.1" y2="2338.8" stroke="#72DCD6" stroke-opacity="0.55" stroke-width="1.2"/><line x1="884.3" y1="2316.5" x2="884.3" y2="2338.8" stroke="#72DCD6" stroke-opacity="0.55" stroke-width="1.2"/><line x1="887.3" y1="2316.5" x2="887.3" y2="2338.8" stroke="#72DCD6" stroke-opacity="0.55" stroke-width="1.2"/><line x1="891.9" y1="2316.5" x2="891.9" y2="2338.8" stroke="#72DCD6" stroke-opacity="0.55" stroke-width="1.2"/><line x1="899.8" y1="2316.5" x2="899.8" y2="2338.8" stroke="#72DCD6" stroke-opacity="0.55" stroke-width="1.2"/><line x1="903.3" y1="2316.5" x2="903.3" y2="2338.8" stroke="#72DCD6" stroke-opacity="0.55" stroke-width="1.2"/><line x1="912.6" y1="2316.5" x2="912.6" y2="2338.8" stroke="#72DCD6" stroke-opacity="0.55" stroke-width="1.2"/><line x1="917.4" y1="2316.5" x2="917.4" y2="2338.8" stroke="#72DCD6" stroke-opacity="0.55" stroke-width="1.2"/><line x1="921.0" y1="2316.5" x2="921.0" y2="2338.8" stroke="#72DCD6" stroke-opacity="0.55" stroke-width="1.2"/><line x1="931.4" y1="2316.5" x2="931.4" y2="2338.8" stroke="#72DCD6" stroke-opacity="0.55" stroke-width="1.2"/><line x1="948.8" y1="2316.5" x2="948.8" y2="2338.8" stroke="#72DCD6" stroke-opacity="0.55" stroke-width="1.2"/><line x1="958.8" y1="2316.5" x2="958.8" y2="2338.8" stroke="#72DCD6" stroke-opacity="0.55" stroke-width="1.2"/><line x1="963.8" y1="2316.5" x2="963.8" y2="2338.8" stroke="#72DCD6" stroke-opacity="0.55" stroke-width="1.2"/><line x1="968.7" y1="2316.5" x2="968.7" y2="2338.8" stroke="#72DCD6" stroke-opacity="0.55" stroke-width="1.2"/><line x1="971.8" y1="2316.5" x2="971.8" y2="2338.8" stroke="#72DCD6" stroke-opacity="0.55" stroke-width="1.2"/><line x1="974.4" y1="2316.5" x2="974.4" y2="2338.8" stroke="#72DCD6" stroke-opacity="0.55" stroke-width="1.2"/><line x1="976.9" y1="2316.5" x2="976.9" y2="2338.8" stroke="#72DCD6" stroke-opacity="0.55" stroke-width="1.2"/><line x1="979.6" y1="2316.5" x2="979.6" y2="2338.8" stroke="#72DCD6" stroke-opacity="0.55" stroke-width="1.2"/><line x1="983.4" y1="2316.5" x2="983.4" y2="2338.8" stroke="#72DCD6" stroke-opacity="0.55" stroke-width="1.2"/><line x1="984.8" y1="2316.5" x2="984.8" y2="2338.8" stroke="#72DCD6" stroke-opacity="0.55" stroke-width="1.2"/><line x1="985.6" y1="2316.5" x2="985.6" y2="2338.8" stroke="#72DCD6" stroke-opacity="0.55" stroke-width="1.2"/><line x1="986.4" y1="2316.5" x2="986.4" y2="2338.8" stroke="#72DCD6" stroke-opacity="0.55" stroke-width="1.2"/><line x1="987.2" y1="2316.5" x2="987.2" y2="2338.8" stroke="#72DCD6" stroke-opacity="0.55" stroke-width="1.2"/><line x1="988.0" y1="2316.5" x2="988.0" y2="2338.8" stroke="#72DCD6" stroke-opacity="0.55" stroke-width="1.2"/><line x1="988.8" y1="2316.5" x2="988.8" y2="2338.8" stroke="#72DCD6" stroke-opacity="0.55" stroke-width="1.2"/><line x1="989.6" y1="2316.5" x2="989.6" y2="2338.8" stroke="#72DCD6" stroke-opacity="0.55" stroke-width="1.2"/><line x1="990.3" y1="2316.5" x2="990.3" y2="2338.8" stroke="#72DCD6" stroke-opacity="0.55" stroke-width="1.2"/><line x1="993.2" y1="2316.5" x2="993.2" y2="2338.8" stroke="#72DCD6" stroke-opacity="0.55" stroke-width="1.2"/><line x1="994.2" y1="2316.5" x2="994.2" y2="2338.8" stroke="#72DCD6" stroke-opacity="0.55" stroke-width="1.2"/><line x1="996.6" y1="2316.5" x2="996.6" y2="2338.8" stroke="#72DCD6" stroke-opacity="0.55" stroke-width="1.2"/><line x1="1000.5" y1="2316.5" x2="1000.5" y2="2338.8" stroke="#72DCD6" stroke-opacity="0.55" stroke-width="1.2"/>
<text x="536.00" y="2360.80" text-anchor="middle" font-family="'Liberation Sans', Arial, sans-serif" font-size="22.3" fill="#000">high riskscore&lt;−−−−−−−−−−−&gt;low riskscore</text>
<line x1="1088.30" y1="1862.00" x2="1996.00" y2="1862.00" stroke="#000" stroke-width="2"/>
<polyline points="1090.8,1790.0 1090.8,1780.1 1096.5,1765.9 1097.9,1733.3 1104.2,1720.5 1106.4,1697.9 1113.5,1685.1 1123.4,1678.0 1165.9,1685.1 1205.6,1687.2 1242.4,1697.2 1248.1,1686.5 1250.0,1687.3 1455.5,1758.9 1500.0,1773.3 1566.6,1793.5 1570.9,1790.7 1630.4,1807.7 1706.9,1824.7 1723.9,1822.6 1751.8,1824.8 1961.1,1886.0 1977.3,1855.8" fill="none" stroke="#72DCD6" stroke-width="6.0" stroke-linejoin="round" stroke-linecap="butt"/>
<polyline points="1090.1,1843.8 1092.9,1822.6 1093.6,1791.4 1100.7,1775.8 1105.0,1764.5 1105.0,1740.4 1110.6,1733.3 1119.1,1727.6 1124.8,1714.9 1127.6,1705.0 1150.3,1702.8 1151.7,1697.9 1180.1,1705.0 1243.9,1723.4 1250.9,1720.5 1261.3,1722.0 1281.2,1729.8 1291.1,1729.8 1298.2,1728.4 1500.0,1798.5 1545.4,1814.8 1562.4,1818.3 1572.3,1815.5 1617.6,1827.6 1621.9,1824.7 1643.1,1826.8 1716.8,1850.5 1733.8,1852.8 1849.1,1888.2 1849.8,1882.3 1909.5,1897.1 1916.9,1891.2 1941.9,1891.9 1949.3,1876.4 1967.0,1874.2 1975.8,1866.9 1989.8,1860.2 1993.5,1862.4" fill="none" stroke="#7A1430" stroke-width="6.0" stroke-linejoin="round" stroke-linecap="butt"/>
<polyline points="1089.5,1848.0 1224.6,1898.5 1263.7,1909.0 1282.4,1914.9 1430.0,1966.5 1530.0,2000.8 1640.0,2037.2 1674.6,2043.3 1680.0,2043.8 1684.0,2042.8 1690.0,2043.5 1700.0,2046.5 1720.8,2051.8 1728.7,2046.5 1739.2,2044.7 1755.9,2047.4 1763.8,2044.7 1813.0,2057.0 1842.9,2063.2 1851.7,2059.7 1890.4,2066.7 1913.2,2067.6 1915.0,2060.6 1925.5,2057.0 1941.3,2053.5 1943.1,2030.7 1953.6,2025.4 1960.6,2018.4 1961.5,2008.7 1971.2,2001.7 1971.2,1992.9 1976.5,1984.1 1981.7,1959.5 1988.8,1901.5 1992.3,1864.6" fill="none" stroke="#6597C0" stroke-width="6.0" stroke-linejoin="round" stroke-linecap="butt"/>
<polyline points="1090.1,1836.8 1090.8,1815.5 1090.8,1720.5 1096.5,1712.0 1103.5,1676.6 1112.0,1669.5 1133.3,1648.3 1134.7,1638.3 1151.7,1634.8 1208.4,1649.7 1250.0,1659.0 1281.2,1668.2 1289.7,1666.1 1455.5,1724.9 1500.0,1738.6 1566.6,1760.9 1572.3,1758.1 1587.9,1759.5 1740.0,1808.6 1846.1,1841.8 1927.2,1856.5 1967.7,1852.1" fill="none" stroke="#3B1240" stroke-width="6.0" stroke-linejoin="round" stroke-linecap="butt"/>
<polyline points="1090.2,1851.9 1224.6,1897.0 1263.7,1906.3 1280.0,1911.6 1430.0,1964.2 1530.0,1998.5 1700.0,2055.0 1795.4,2085.2 1830.6,2084.3 1900.9,2103.6 1913.2,2099.2 1914.1,2091.3 1943.1,2092.2 1946.6,2085.2 1955.4,2078.1 1957.1,2049.1 1965.9,2040.4 1978.2,2034.2 1985.3,2012.2 1988.8,1989.4 1992.3,1963.0 1994.0,1927.9 1994.0,1862.8" fill="none" stroke="#90602B" stroke-width="6.0" stroke-linejoin="round" stroke-linecap="butt"/>
<polyline points="1090.8,1815.5 1090.8,1765.9 1092.2,1730.5 1097.9,1713.5 1103.5,1695.0 1107.8,1676.6 1109.9,1656.8 1131.9,1641.9 1205.6,1658.9 1208.4,1648.3 1221.2,1641.2 1250.0,1649.5 1288.3,1659.6 1306.7,1663.2 1462.6,1717.8 1500.0,1727.3 1740.0,1794.6 1901.4,1827.8" fill="none" stroke="#6A5496" stroke-width="6.0" stroke-linejoin="round" stroke-linecap="butt"/>
<line x1="1088.30" y1="1628.40" x2="1088.30" y2="2109.20" stroke="#000" stroke-width="2"/>
<line x1="1082.50" y1="1730.80" x2="1088.30" y2="1730.80" stroke="#333" stroke-width="1.6"/>
<line x1="1082.50" y1="1862.00" x2="1088.30" y2="1862.00" stroke="#333" stroke-width="1.6"/>
<line x1="1082.50" y1="1993.20" x2="1088.30" y2="1993.20" stroke="#333" stroke-width="1.6"/>
<g font-family="'Liberation Sans', Arial, sans-serif" font-size="17.5" fill="#262626"><text x="1078.00" y="1737.55" text-anchor="end">0.4</text><text x="1078.00" y="1868.75" text-anchor="end">0.0</text><text x="1078.00" y="1999.95" text-anchor="end">−0.4</text></g>
<text transform="translate(1038.40,1869.00) rotate(-90)" text-anchor="middle" font-family="'Liberation Sans', Arial, sans-serif" font-size="21.3" fill="#000">Enrichment Score</text>
<g font-family="'Liberation Sans', Arial, sans-serif" font-size="17.7" fill="#000"><line x1="1102.10" y1="1944.60" x2="1124.50" y2="1944.60" stroke="#72DCD6" stroke-width="6.6"/><text x="1138.90" y="1951.00">KEGG_FRUCTOSE_AND_MANNOSE_METABOLISM</text><line x1="1102.10" y1="1972.64" x2="1124.50" y2="1972.64" stroke="#7A1430" stroke-width="6.6"/><text x="1138.90" y="1979.04">KEGG_GLYCOLYSIS_GLUCONEOGENESIS</text><line x1="1102.10" y1="2000.68" x2="1124.50" y2="2000.68" stroke="#6597C0" stroke-width="6.6"/><text x="1138.90" y="2007.08">KEGG_INTESTINAL_IMMUNE_NETWORK_FOR_IGA_PRODUCTION</text><line x1="1102.10" y1="2028.72" x2="1124.50" y2="2028.72" stroke="#3B1240" stroke-width="6.6"/><text x="1138.90" y="2035.12">KEGG_PENTOSE_PHOSPHATE_PATHWAY</text><line x1="1102.10" y1="2056.76" x2="1124.50" y2="2056.76" stroke="#90602B" stroke-width="6.6"/><text x="1138.90" y="2063.16">KEGG_PRIMARY_IMMUNODEFICIENCY</text><line x1="1102.10" y1="2084.80" x2="1124.50" y2="2084.80" stroke="#6A5496" stroke-width="6.6"/><text x="1138.90" y="2091.20">KEGG_STEROID_BIOSYNTHESIS</text></g>
<line x1="1089.8" y1="2197.7" x2="1089.8" y2="2218.9" stroke="#6A5496" stroke-opacity="0.55" stroke-width="1.2"/><line x1="1090.4" y1="2197.7" x2="1090.4" y2="2218.9" stroke="#6A5496" stroke-opacity="0.55" stroke-width="1.2"/><line x1="1099.4" y1="2197.7" x2="1099.4" y2="2218.9" stroke="#6A5496" stroke-opacity="0.55" stroke-width="1.2"/><line x1="1107.6" y1="2197.7" x2="1107.6" y2="2218.9" stroke="#6A5496" stroke-opacity="0.55" stroke-width="1.2"/><line x1="1110.7" y1="2197.7" x2="1110.7" y2="2218.9" stroke="#6A5496" stroke-opacity="0.55" stroke-width="1.2"/><line x1="1131.1" y1="2197.7" x2="1131.1" y2="2218.9" stroke="#6A5496" stroke-opacity="0.55" stroke-width="1.2"/><line x1="1207.3" y1="2197.7" x2="1207.3" y2="2218.9" stroke="#6A5496" stroke-opacity="0.55" stroke-width="1.2"/><line x1="1210.6" y1="2197.7" x2="1210.6" y2="2218.9" stroke="#6A5496" stroke-opacity="0.55" stroke-width="1.2"/><line x1="1221.2" y1="2197.7" x2="1221.2" y2="2218.9" stroke="#6A5496" stroke-opacity="0.55" stroke-width="1.2"/><line x1="1287.3" y1="2197.7" x2="1287.3" y2="2218.9" stroke="#6A5496" stroke-opacity="0.55" stroke-width="1.2"/><line x1="1308.0" y1="2197.7" x2="1308.0" y2="2218.9" stroke="#6A5496" stroke-opacity="0.55" stroke-width="1.2"/><line x1="1463.7" y1="2197.7" x2="1463.7" y2="2218.9" stroke="#6A5496" stroke-opacity="0.55" stroke-width="1.2"/><line x1="1487.6" y1="2197.7" x2="1487.6" y2="2218.9" stroke="#6A5496" stroke-opacity="0.55" stroke-width="1.2"/><line x1="1532.2" y1="2197.7" x2="1532.2" y2="2218.9" stroke="#6A5496" stroke-opacity="0.55" stroke-width="1.2"/><line x1="1744.2" y1="2197.7" x2="1744.2" y2="2218.9" stroke="#6A5496" stroke-opacity="0.55" stroke-width="1.2"/><line x1="1901.1" y1="2197.7" x2="1901.1" y2="2218.9" stroke="#6A5496" stroke-opacity="0.55" stroke-width="1.2"/><line x1="1090.8" y1="2218.9" x2="1090.8" y2="2240.7" stroke="#90602B" stroke-opacity="0.55" stroke-width="1.2"/><line x1="1223.4" y1="2218.9" x2="1223.4" y2="2240.7" stroke="#90602B" stroke-opacity="0.55" stroke-width="1.2"/><line x1="1247.1" y1="2218.9" x2="1247.1" y2="2240.7" stroke="#90602B" stroke-opacity="0.55" stroke-width="1.2"/><line x1="1263.7" y1="2218.9" x2="1263.7" y2="2240.7" stroke="#90602B" stroke-opacity="0.55" stroke-width="1.2"/><line x1="1357.6" y1="2218.9" x2="1357.6" y2="2240.7" stroke="#90602B" stroke-opacity="0.55" stroke-width="1.2"/><line x1="1472.7" y1="2218.9" x2="1472.7" y2="2240.7" stroke="#90602B" stroke-opacity="0.55" stroke-width="1.2"/><line x1="1529.0" y1="2218.9" x2="1529.0" y2="2240.7" stroke="#90602B" stroke-opacity="0.55" stroke-width="1.2"/><line x1="1546.4" y1="2218.9" x2="1546.4" y2="2240.7" stroke="#90602B" stroke-opacity="0.55" stroke-width="1.2"/><line x1="1665.9" y1="2218.9" x2="1665.9" y2="2240.7" stroke="#90602B" stroke-opacity="0.55" stroke-width="1.2"/><line x1="1796.3" y1="2218.9" x2="1796.3" y2="2240.7" stroke="#90602B" stroke-opacity="0.55" stroke-width="1.2"/><line x1="1811.7" y1="2218.9" x2="1811.7" y2="2240.7" stroke="#90602B" stroke-opacity="0.55" stroke-width="1.2"/><line x1="1831.3" y1="2218.9" x2="1831.3" y2="2240.7" stroke="#90602B" stroke-opacity="0.55" stroke-width="1.2"/><line x1="1901.1" y1="2218.9" x2="1901.1" y2="2240.7" stroke="#90602B" stroke-opacity="0.55" stroke-width="1.2"/><line x1="1913.9" y1="2218.9" x2="1913.9" y2="2240.7" stroke="#90602B" stroke-opacity="0.55" stroke-width="1.2"/><line x1="1943.4" y1="2218.9" x2="1943.4" y2="2240.7" stroke="#90602B" stroke-opacity="0.55" stroke-width="1.2"/><line x1="1947.3" y1="2218.9" x2="1947.3" y2="2240.7" stroke="#90602B" stroke-opacity="0.55" stroke-width="1.2"/><line x1="1954.6" y1="2218.9" x2="1954.6" y2="2240.7" stroke="#90602B" stroke-opacity="0.55" stroke-width="1.2"/><line x1="1956.2" y1="2218.9" x2="1956.2" y2="2240.7" stroke="#90602B" stroke-opacity="0.55" stroke-width="1.2"/><line x1="1957.7" y1="2218.9" x2="1957.7" y2="2240.7" stroke="#90602B" stroke-opacity="0.55" stroke-width="1.2"/><line x1="1959.8" y1="2218.9" x2="1959.8" y2="2240.7" stroke="#90602B" stroke-opacity="0.55" stroke-width="1.2"/><line x1="1966.3" y1="2218.9" x2="1966.3" y2="2240.7" stroke="#90602B" stroke-opacity="0.55" stroke-width="1.2"/><line x1="1978.5" y1="2218.9" x2="1978.5" y2="2240.7" stroke="#90602B" stroke-opacity="0.55" stroke-width="1.2"/><line x1="1981.9" y1="2218.9" x2="1981.9" y2="2240.7" stroke="#90602B" stroke-opacity="0.55" stroke-width="1.2"/><line x1="1985.3" y1="2218.9" x2="1985.3" y2="2240.7" stroke="#90602B" stroke-opacity="0.55" stroke-width="1.2"/><line x1="1989.8" y1="2218.9" x2="1989.8" y2="2240.7" stroke="#90602B" stroke-opacity="0.55" stroke-width="1.2"/><line x1="1990.3" y1="2218.9" x2="1990.3" y2="2240.7" stroke="#90602B" stroke-opacity="0.55" stroke-width="1.2"/><line x1="1993.3" y1="2218.9" x2="1993.3" y2="2240.7" stroke="#90602B" stroke-opacity="0.55" stroke-width="1.2"/><line x1="1994.1" y1="2218.9" x2="1994.1" y2="2240.7" stroke="#90602B" stroke-opacity="0.55" stroke-width="1.2"/><line x1="1994.9" y1="2218.9" x2="1994.9" y2="2240.7" stroke="#90602B" stroke-opacity="0.55" stroke-width="1.2"/><line x1="1995.7" y1="2218.9" x2="1995.7" y2="2240.7" stroke="#90602B" stroke-opacity="0.55" stroke-width="1.2"/><line x1="1996.5" y1="2218.9" x2="1996.5" y2="2240.7" stroke="#90602B" stroke-opacity="0.55" stroke-width="1.2"/><line x1="1997.0" y1="2218.9" x2="1997.0" y2="2240.7" stroke="#90602B" stroke-opacity="0.55" stroke-width="1.2"/><line x1="1088.8" y1="2240.7" x2="1088.8" y2="2263.0" stroke="#3B1240" stroke-opacity="0.55" stroke-width="1.2"/><line x1="1092.3" y1="2240.7" x2="1092.3" y2="2263.0" stroke="#3B1240" stroke-opacity="0.55" stroke-width="1.2"/><line x1="1092.3" y1="2240.7" x2="1092.3" y2="2263.0" stroke="#3B1240" stroke-opacity="0.55" stroke-width="1.2"/><line x1="1101.7" y1="2240.7" x2="1101.7" y2="2263.0" stroke="#3B1240" stroke-opacity="0.55" stroke-width="1.2"/><line x1="1104.6" y1="2240.7" x2="1104.6" y2="2263.0" stroke="#3B1240" stroke-opacity="0.55" stroke-width="1.2"/><line x1="1104.6" y1="2240.7" x2="1104.6" y2="2263.0" stroke="#3B1240" stroke-opacity="0.55" stroke-width="1.2"/><line x1="1115.4" y1="2240.7" x2="1115.4" y2="2263.0" stroke="#3B1240" stroke-opacity="0.55" stroke-width="1.2"/><line x1="1123.5" y1="2240.7" x2="1123.5" y2="2263.0" stroke="#3B1240" stroke-opacity="0.55" stroke-width="1.2"/><line x1="1132.4" y1="2240.7" x2="1132.4" y2="2263.0" stroke="#3B1240" stroke-opacity="0.55" stroke-width="1.2"/><line x1="1135.3" y1="2240.7" x2="1135.3" y2="2263.0" stroke="#3B1240" stroke-opacity="0.55" stroke-width="1.2"/><line x1="1151.3" y1="2240.7" x2="1151.3" y2="2263.0" stroke="#3B1240" stroke-opacity="0.55" stroke-width="1.2"/><line x1="1207.9" y1="2240.7" x2="1207.9" y2="2263.0" stroke="#3B1240" stroke-opacity="0.55" stroke-width="1.2"/><line x1="1243.8" y1="2240.7" x2="1243.8" y2="2263.0" stroke="#3B1240" stroke-opacity="0.55" stroke-width="1.2"/><line x1="1281.9" y1="2240.7" x2="1281.9" y2="2263.0" stroke="#3B1240" stroke-opacity="0.55" stroke-width="1.2"/><line x1="1286.0" y1="2240.7" x2="1286.0" y2="2263.0" stroke="#3B1240" stroke-opacity="0.55" stroke-width="1.2"/><line x1="1291.2" y1="2240.7" x2="1291.2" y2="2263.0" stroke="#3B1240" stroke-opacity="0.55" stroke-width="1.2"/><line x1="1455.5" y1="2240.7" x2="1455.5" y2="2263.0" stroke="#3B1240" stroke-opacity="0.55" stroke-width="1.2"/><line x1="1465.0" y1="2240.7" x2="1465.0" y2="2263.0" stroke="#3B1240" stroke-opacity="0.55" stroke-width="1.2"/><line x1="1566.9" y1="2240.7" x2="1566.9" y2="2263.0" stroke="#3B1240" stroke-opacity="0.55" stroke-width="1.2"/><line x1="1571.3" y1="2240.7" x2="1571.3" y2="2263.0" stroke="#3B1240" stroke-opacity="0.55" stroke-width="1.2"/><line x1="1589.0" y1="2240.7" x2="1589.0" y2="2263.0" stroke="#3B1240" stroke-opacity="0.55" stroke-width="1.2"/><line x1="1846.6" y1="2240.7" x2="1846.6" y2="2263.0" stroke="#3B1240" stroke-opacity="0.55" stroke-width="1.2"/><line x1="1928.0" y1="2240.7" x2="1928.0" y2="2263.0" stroke="#3B1240" stroke-opacity="0.55" stroke-width="1.2"/><line x1="1968.2" y1="2240.7" x2="1968.2" y2="2263.0" stroke="#3B1240" stroke-opacity="0.55" stroke-width="1.2"/><line x1="1089.0" y1="2263.0" x2="1089.0" y2="2284.8" stroke="#6597C0" stroke-opacity="0.55" stroke-width="1.2"/><line x1="1260.4" y1="2263.0" x2="1260.4" y2="2284.8" stroke="#6597C0" stroke-opacity="0.55" stroke-width="1.2"/><line x1="1281.4" y1="2263.0" x2="1281.4" y2="2284.8" stroke="#6597C0" stroke-opacity="0.55" stroke-width="1.2"/><line x1="1286.0" y1="2263.0" x2="1286.0" y2="2284.8" stroke="#6597C0" stroke-opacity="0.55" stroke-width="1.2"/><line x1="1407.1" y1="2263.0" x2="1407.1" y2="2284.8" stroke="#6597C0" stroke-opacity="0.55" stroke-width="1.2"/><line x1="1490.9" y1="2263.0" x2="1490.9" y2="2284.8" stroke="#6597C0" stroke-opacity="0.55" stroke-width="1.2"/><line x1="1548.3" y1="2263.0" x2="1548.3" y2="2284.8" stroke="#6597C0" stroke-opacity="0.55" stroke-width="1.2"/><line x1="1579.6" y1="2263.0" x2="1579.6" y2="2284.8" stroke="#6597C0" stroke-opacity="0.55" stroke-width="1.2"/><line x1="1635.2" y1="2263.0" x2="1635.2" y2="2284.8" stroke="#6597C0" stroke-opacity="0.55" stroke-width="1.2"/><line x1="1666.5" y1="2263.0" x2="1666.5" y2="2284.8" stroke="#6597C0" stroke-opacity="0.55" stroke-width="1.2"/><line x1="1682.6" y1="2263.0" x2="1682.6" y2="2284.8" stroke="#6597C0" stroke-opacity="0.55" stroke-width="1.2"/><line x1="1688.4" y1="2263.0" x2="1688.4" y2="2284.8" stroke="#6597C0" stroke-opacity="0.55" stroke-width="1.2"/><line x1="1720.4" y1="2263.0" x2="1720.4" y2="2284.8" stroke="#6597C0" stroke-opacity="0.55" stroke-width="1.2"/><line x1="1723.8" y1="2263.0" x2="1723.8" y2="2284.8" stroke="#6597C0" stroke-opacity="0.55" stroke-width="1.2"/><line x1="1729.8" y1="2263.0" x2="1729.8" y2="2284.8" stroke="#6597C0" stroke-opacity="0.55" stroke-width="1.2"/><line x1="1738.2" y1="2263.0" x2="1738.2" y2="2284.8" stroke="#6597C0" stroke-opacity="0.55" stroke-width="1.2"/><line x1="1755.6" y1="2263.0" x2="1755.6" y2="2284.8" stroke="#6597C0" stroke-opacity="0.55" stroke-width="1.2"/><line x1="1763.2" y1="2263.0" x2="1763.2" y2="2284.8" stroke="#6597C0" stroke-opacity="0.55" stroke-width="1.2"/><line x1="1811.7" y1="2263.0" x2="1811.7" y2="2284.8" stroke="#6597C0" stroke-opacity="0.55" stroke-width="1.2"/><line x1="1842.5" y1="2263.0" x2="1842.5" y2="2284.8" stroke="#6597C0" stroke-opacity="0.55" stroke-width="1.2"/><line x1="1851.9" y1="2263.0" x2="1851.9" y2="2284.8" stroke="#6597C0" stroke-opacity="0.55" stroke-width="1.2"/><line x1="1889.9" y1="2263.0" x2="1889.9" y2="2284.8" stroke="#6597C0" stroke-opacity="0.55" stroke-width="1.2"/><line x1="1913.9" y1="2263.0" x2="1913.9" y2="2284.8" stroke="#6597C0" stroke-opacity="0.55" stroke-width="1.2"/><line x1="1925.9" y1="2263.0" x2="1925.9" y2="2284.8" stroke="#6597C0" stroke-opacity="0.55" stroke-width="1.2"/><line x1="1940.3" y1="2263.0" x2="1940.3" y2="2284.8" stroke="#6597C0" stroke-opacity="0.55" stroke-width="1.2"/><line x1="1941.6" y1="2263.0" x2="1941.6" y2="2284.8" stroke="#6597C0" stroke-opacity="0.55" stroke-width="1.2"/><line x1="1944.7" y1="2263.0" x2="1944.7" y2="2284.8" stroke="#6597C0" stroke-opacity="0.55" stroke-width="1.2"/><line x1="1954.6" y1="2263.0" x2="1954.6" y2="2284.8" stroke="#6597C0" stroke-opacity="0.55" stroke-width="1.2"/><line x1="1960.3" y1="2263.0" x2="1960.3" y2="2284.8" stroke="#6597C0" stroke-opacity="0.55" stroke-width="1.2"/><line x1="1969.5" y1="2263.0" x2="1969.5" y2="2284.8" stroke="#6597C0" stroke-opacity="0.55" stroke-width="1.2"/><line x1="1975.0" y1="2263.0" x2="1975.0" y2="2284.8" stroke="#6597C0" stroke-opacity="0.55" stroke-width="1.2"/><line x1="1978.1" y1="2263.0" x2="1978.1" y2="2284.8" stroke="#6597C0" stroke-opacity="0.55" stroke-width="1.2"/><line x1="1980.2" y1="2263.0" x2="1980.2" y2="2284.8" stroke="#6597C0" stroke-opacity="0.55" stroke-width="1.2"/><line x1="1982.0" y1="2263.0" x2="1982.0" y2="2284.8" stroke="#6597C0" stroke-opacity="0.55" stroke-width="1.2"/><line x1="1983.3" y1="2263.0" x2="1983.3" y2="2284.8" stroke="#6597C0" stroke-opacity="0.55" stroke-width="1.2"/><line x1="1984.9" y1="2263.0" x2="1984.9" y2="2284.8" stroke="#6597C0" stroke-opacity="0.55" stroke-width="1.2"/><line x1="1986.5" y1="2263.0" x2="1986.5" y2="2284.8" stroke="#6597C0" stroke-opacity="0.55" stroke-width="1.2"/><line x1="1988.0" y1="2263.0" x2="1988.0" y2="2284.8" stroke="#6597C0" stroke-opacity="0.55" stroke-width="1.2"/><line x1="1989.8" y1="2263.0" x2="1989.8" y2="2284.8" stroke="#6597C0" stroke-opacity="0.55" stroke-width="1.2"/><line x1="1993.7" y1="2263.0" x2="1993.7" y2="2284.8" stroke="#6597C0" stroke-opacity="0.55" stroke-width="1.2"/><line x1="1088.7" y1="2284.8" x2="1088.7" y2="2306.5" stroke="#7A1430" stroke-opacity="0.55" stroke-width="1.2"/><line x1="1091.9" y1="2284.8" x2="1091.9" y2="2306.5" stroke="#7A1430" stroke-opacity="0.55" stroke-width="1.2"/><line x1="1091.9" y1="2284.8" x2="1091.9" y2="2306.5" stroke="#7A1430" stroke-opacity="0.55" stroke-width="1.2"/><line x1="1095.3" y1="2284.8" x2="1095.3" y2="2306.5" stroke="#7A1430" stroke-opacity="0.55" stroke-width="1.2"/><line x1="1098.6" y1="2284.8" x2="1098.6" y2="2306.5" stroke="#7A1430" stroke-opacity="0.55" stroke-width="1.2"/><line x1="1102.3" y1="2284.8" x2="1102.3" y2="2306.5" stroke="#7A1430" stroke-opacity="0.55" stroke-width="1.2"/><line x1="1104.6" y1="2284.8" x2="1104.6" y2="2306.5" stroke="#7A1430" stroke-opacity="0.55" stroke-width="1.2"/><line x1="1104.6" y1="2284.8" x2="1104.6" y2="2306.5" stroke="#7A1430" stroke-opacity="0.55" stroke-width="1.2"/><line x1="1105.6" y1="2284.8" x2="1105.6" y2="2306.5" stroke="#7A1430" stroke-opacity="0.55" stroke-width="1.2"/><line x1="1106.6" y1="2284.8" x2="1106.6" y2="2306.5" stroke="#7A1430" stroke-opacity="0.55" stroke-width="1.2"/><line x1="1107.4" y1="2284.8" x2="1107.4" y2="2306.5" stroke="#7A1430" stroke-opacity="0.55" stroke-width="1.2"/><line x1="1111.0" y1="2284.8" x2="1111.0" y2="2306.5" stroke="#7A1430" stroke-opacity="0.55" stroke-width="1.2"/><line x1="1118.0" y1="2284.8" x2="1118.0" y2="2306.5" stroke="#7A1430" stroke-opacity="0.55" stroke-width="1.2"/><line x1="1121.1" y1="2284.8" x2="1121.1" y2="2306.5" stroke="#7A1430" stroke-opacity="0.55" stroke-width="1.2"/><line x1="1123.9" y1="2284.8" x2="1123.9" y2="2306.5" stroke="#7A1430" stroke-opacity="0.55" stroke-width="1.2"/><line x1="1123.9" y1="2284.8" x2="1123.9" y2="2306.5" stroke="#7A1430" stroke-opacity="0.55" stroke-width="1.2"/><line x1="1127.4" y1="2284.8" x2="1127.4" y2="2306.5" stroke="#7A1430" stroke-opacity="0.55" stroke-width="1.2"/><line x1="1139.8" y1="2284.8" x2="1139.8" y2="2306.5" stroke="#7A1430" stroke-opacity="0.55" stroke-width="1.2"/><line x1="1150.6" y1="2284.8" x2="1150.6" y2="2306.5" stroke="#7A1430" stroke-opacity="0.55" stroke-width="1.2"/><line x1="1150.6" y1="2284.8" x2="1150.6" y2="2306.5" stroke="#7A1430" stroke-opacity="0.55" stroke-width="1.2"/><line x1="1181.9" y1="2284.8" x2="1181.9" y2="2306.5" stroke="#7A1430" stroke-opacity="0.55" stroke-width="1.2"/><line x1="1218.8" y1="2284.8" x2="1218.8" y2="2306.5" stroke="#7A1430" stroke-opacity="0.55" stroke-width="1.2"/><line x1="1243.8" y1="2284.8" x2="1243.8" y2="2306.5" stroke="#7A1430" stroke-opacity="0.55" stroke-width="1.2"/><line x1="1251.4" y1="2284.8" x2="1251.4" y2="2306.5" stroke="#7A1430" stroke-opacity="0.55" stroke-width="1.2"/><line x1="1260.1" y1="2284.8" x2="1260.1" y2="2306.5" stroke="#7A1430" stroke-opacity="0.55" stroke-width="1.2"/><line x1="1281.9" y1="2284.8" x2="1281.9" y2="2306.5" stroke="#7A1430" stroke-opacity="0.55" stroke-width="1.2"/><line x1="1286.0" y1="2284.8" x2="1286.0" y2="2306.5" stroke="#7A1430" stroke-opacity="0.55" stroke-width="1.2"/><line x1="1291.7" y1="2284.8" x2="1291.7" y2="2306.5" stroke="#7A1430" stroke-opacity="0.55" stroke-width="1.2"/><line x1="1295.0" y1="2284.8" x2="1295.0" y2="2306.5" stroke="#7A1430" stroke-opacity="0.55" stroke-width="1.2"/><line x1="1298.5" y1="2284.8" x2="1298.5" y2="2306.5" stroke="#7A1430" stroke-opacity="0.55" stroke-width="1.2"/><line x1="1335.8" y1="2284.8" x2="1335.8" y2="2306.5" stroke="#7A1430" stroke-opacity="0.55" stroke-width="1.2"/><line x1="1345.3" y1="2284.8" x2="1345.3" y2="2306.5" stroke="#7A1430" stroke-opacity="0.55" stroke-width="1.2"/><line x1="1401.1" y1="2284.8" x2="1401.1" y2="2306.5" stroke="#7A1430" stroke-opacity="0.55" stroke-width="1.2"/><line x1="1433.7" y1="2284.8" x2="1433.7" y2="2306.5" stroke="#7A1430" stroke-opacity="0.55" stroke-width="1.2"/><line x1="1455.5" y1="2284.8" x2="1455.5" y2="2306.5" stroke="#7A1430" stroke-opacity="0.55" stroke-width="1.2"/><line x1="1501.2" y1="2284.8" x2="1501.2" y2="2306.5" stroke="#7A1430" stroke-opacity="0.55" stroke-width="1.2"/><line x1="1509.4" y1="2284.8" x2="1509.4" y2="2306.5" stroke="#7A1430" stroke-opacity="0.55" stroke-width="1.2"/><line x1="1545.3" y1="2284.8" x2="1545.3" y2="2306.5" stroke="#7A1430" stroke-opacity="0.55" stroke-width="1.2"/><line x1="1562.2" y1="2284.8" x2="1562.2" y2="2306.5" stroke="#7A1430" stroke-opacity="0.55" stroke-width="1.2"/><line x1="1566.9" y1="2284.8" x2="1566.9" y2="2306.5" stroke="#7A1430" stroke-opacity="0.55" stroke-width="1.2"/><line x1="1570.8" y1="2284.8" x2="1570.8" y2="2306.5" stroke="#7A1430" stroke-opacity="0.55" stroke-width="1.2"/><line x1="1572.6" y1="2284.8" x2="1572.6" y2="2306.5" stroke="#7A1430" stroke-opacity="0.55" stroke-width="1.2"/><line x1="1602.1" y1="2284.8" x2="1602.1" y2="2306.5" stroke="#7A1430" stroke-opacity="0.55" stroke-width="1.2"/><line x1="1617.7" y1="2284.8" x2="1617.7" y2="2306.5" stroke="#7A1430" stroke-opacity="0.55" stroke-width="1.2"/><line x1="1620.8" y1="2284.8" x2="1620.8" y2="2306.5" stroke="#7A1430" stroke-opacity="0.55" stroke-width="1.2"/><line x1="1631.3" y1="2284.8" x2="1631.3" y2="2306.5" stroke="#7A1430" stroke-opacity="0.55" stroke-width="1.2"/><line x1="1644.3" y1="2284.8" x2="1644.3" y2="2306.5" stroke="#7A1430" stroke-opacity="0.55" stroke-width="1.2"/><line x1="1717.8" y1="2284.8" x2="1717.8" y2="2306.5" stroke="#7A1430" stroke-opacity="0.55" stroke-width="1.2"/><line x1="1736.3" y1="2284.8" x2="1736.3" y2="2306.5" stroke="#7A1430" stroke-opacity="0.55" stroke-width="1.2"/><line x1="1849.8" y1="2284.8" x2="1849.8" y2="2306.5" stroke="#7A1430" stroke-opacity="0.55" stroke-width="1.2"/><line x1="1909.8" y1="2284.8" x2="1909.8" y2="2306.5" stroke="#7A1430" stroke-opacity="0.55" stroke-width="1.2"/><line x1="1916.8" y1="2284.8" x2="1916.8" y2="2306.5" stroke="#7A1430" stroke-opacity="0.55" stroke-width="1.2"/><line x1="1941.6" y1="2284.8" x2="1941.6" y2="2306.5" stroke="#7A1430" stroke-opacity="0.55" stroke-width="1.2"/><line x1="1945.5" y1="2284.8" x2="1945.5" y2="2306.5" stroke="#7A1430" stroke-opacity="0.55" stroke-width="1.2"/><line x1="1950.2" y1="2284.8" x2="1950.2" y2="2306.5" stroke="#7A1430" stroke-opacity="0.55" stroke-width="1.2"/><line x1="1967.1" y1="2284.8" x2="1967.1" y2="2306.5" stroke="#7A1430" stroke-opacity="0.55" stroke-width="1.2"/><line x1="1973.4" y1="2284.8" x2="1973.4" y2="2306.5" stroke="#7A1430" stroke-opacity="0.55" stroke-width="1.2"/><line x1="1991.1" y1="2284.8" x2="1991.1" y2="2306.5" stroke="#7A1430" stroke-opacity="0.55" stroke-width="1.2"/><line x1="1089.0" y1="2306.5" x2="1089.0" y2="2328.3" stroke="#72DCD6" stroke-opacity="0.55" stroke-width="1.2"/><line x1="1092.1" y1="2306.5" x2="1092.1" y2="2328.3" stroke="#72DCD6" stroke-opacity="0.55" stroke-width="1.2"/><line x1="1092.1" y1="2306.5" x2="1092.1" y2="2328.3" stroke="#72DCD6" stroke-opacity="0.55" stroke-width="1.2"/><line x1="1095.3" y1="2306.5" x2="1095.3" y2="2328.3" stroke="#72DCD6" stroke-opacity="0.55" stroke-width="1.2"/><line x1="1097.9" y1="2306.5" x2="1097.9" y2="2328.3" stroke="#72DCD6" stroke-opacity="0.55" stroke-width="1.2"/><line x1="1097.9" y1="2306.5" x2="1097.9" y2="2328.3" stroke="#72DCD6" stroke-opacity="0.55" stroke-width="1.2"/><line x1="1104.4" y1="2306.5" x2="1104.4" y2="2328.3" stroke="#72DCD6" stroke-opacity="0.55" stroke-width="1.2"/><line x1="1104.4" y1="2306.5" x2="1104.4" y2="2328.3" stroke="#72DCD6" stroke-opacity="0.55" stroke-width="1.2"/><line x1="1106.4" y1="2306.5" x2="1106.4" y2="2328.3" stroke="#72DCD6" stroke-opacity="0.55" stroke-width="1.2"/><line x1="1107.4" y1="2306.5" x2="1107.4" y2="2328.3" stroke="#72DCD6" stroke-opacity="0.55" stroke-width="1.2"/><line x1="1112.6" y1="2306.5" x2="1112.6" y2="2328.3" stroke="#72DCD6" stroke-opacity="0.55" stroke-width="1.2"/><line x1="1123.5" y1="2306.5" x2="1123.5" y2="2328.3" stroke="#72DCD6" stroke-opacity="0.55" stroke-width="1.2"/><line x1="1166.6" y1="2306.5" x2="1166.6" y2="2328.3" stroke="#72DCD6" stroke-opacity="0.55" stroke-width="1.2"/><line x1="1185.1" y1="2306.5" x2="1185.1" y2="2328.3" stroke="#72DCD6" stroke-opacity="0.55" stroke-width="1.2"/><line x1="1206.8" y1="2306.5" x2="1206.8" y2="2328.3" stroke="#72DCD6" stroke-opacity="0.55" stroke-width="1.2"/><line x1="1244.4" y1="2306.5" x2="1244.4" y2="2328.3" stroke="#72DCD6" stroke-opacity="0.55" stroke-width="1.2"/><line x1="1248.7" y1="2306.5" x2="1248.7" y2="2328.3" stroke="#72DCD6" stroke-opacity="0.55" stroke-width="1.2"/><line x1="1316.7" y1="2306.5" x2="1316.7" y2="2328.3" stroke="#72DCD6" stroke-opacity="0.55" stroke-width="1.2"/><line x1="1455.5" y1="2306.5" x2="1455.5" y2="2328.3" stroke="#72DCD6" stroke-opacity="0.55" stroke-width="1.2"/><line x1="1476.2" y1="2306.5" x2="1476.2" y2="2328.3" stroke="#72DCD6" stroke-opacity="0.55" stroke-width="1.2"/><line x1="1513.2" y1="2306.5" x2="1513.2" y2="2328.3" stroke="#72DCD6" stroke-opacity="0.55" stroke-width="1.2"/><line x1="1566.9" y1="2306.5" x2="1566.9" y2="2328.3" stroke="#72DCD6" stroke-opacity="0.55" stroke-width="1.2"/><line x1="1570.8" y1="2306.5" x2="1570.8" y2="2328.3" stroke="#72DCD6" stroke-opacity="0.55" stroke-width="1.2"/><line x1="1630.7" y1="2306.5" x2="1630.7" y2="2328.3" stroke="#72DCD6" stroke-opacity="0.55" stroke-width="1.2"/><line x1="1660.7" y1="2306.5" x2="1660.7" y2="2328.3" stroke="#72DCD6" stroke-opacity="0.55" stroke-width="1.2"/><line x1="1707.4" y1="2306.5" x2="1707.4" y2="2328.3" stroke="#72DCD6" stroke-opacity="0.55" stroke-width="1.2"/><line x1="1725.9" y1="2306.5" x2="1725.9" y2="2328.3" stroke="#72DCD6" stroke-opacity="0.55" stroke-width="1.2"/><line x1="1751.7" y1="2306.5" x2="1751.7" y2="2328.3" stroke="#72DCD6" stroke-opacity="0.55" stroke-width="1.2"/><line x1="1959.8" y1="2306.5" x2="1959.8" y2="2328.3" stroke="#72DCD6" stroke-opacity="0.55" stroke-width="1.2"/><line x1="1968.9" y1="2306.5" x2="1968.9" y2="2328.3" stroke="#72DCD6" stroke-opacity="0.55" stroke-width="1.2"/><line x1="1976.8" y1="2306.5" x2="1976.8" y2="2328.3" stroke="#72DCD6" stroke-opacity="0.55" stroke-width="1.2"/>
<text x="1525.20" y="2348.80" text-anchor="middle" font-family="'Liberation Sans', Arial, sans-serif" font-size="21.75" fill="#000">high riskscore&lt;−−−−−−−−−−−&gt;low riskscore</text>
</svg>
</body></html>
